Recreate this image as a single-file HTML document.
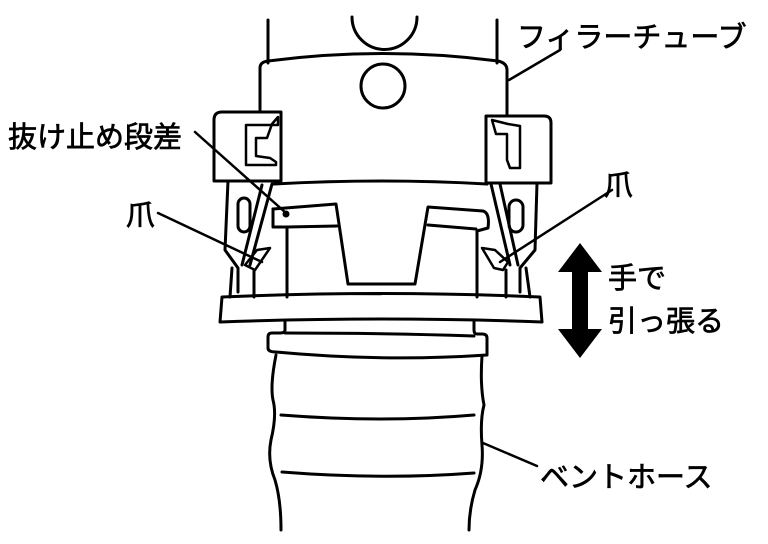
<!DOCTYPE html>
<html><head><meta charset="utf-8"><style>
html,body{margin:0;padding:0;background:#fff}
svg{display:block}
text{font-family:"Liberation Sans","Noto Sans CJK JP",sans-serif;fill:#000;stroke:#000;stroke-width:0.7}
</style></head><body>
<svg width="768" height="544" viewBox="0 0 768 544" xmlns="http://www.w3.org/2000/svg">
<g fill="none" stroke="#000" stroke-width="3" stroke-linejoin="round" stroke-linecap="round">
<line x1="268" y1="20" x2="268" y2="63"/>
<line x1="497" y1="20" x2="497" y2="63"/>
<path d="M352,17 A32,32 0 0 0 417,17"/>
<path d="M260,112 V68 Q260,62 268,61 Q383,46 498,61 Q507,63 507,70 V116"/>
<circle cx="383" cy="86" r="22"/>
<path d="M281,112 H222 Q214,112 214,120 V181 H281 Z"/>
<path d="M486,116 H544 Q551,116 551,123 V183 H486 Z"/>
<path d="M246,125 H278 V117 L272,124 L267,138 H256 V156 L270,158 L276,162 V165 H246 Z" stroke-width="2.5"/>
<path d="M492,120 L496,134 H507 V160 L510,168 H520 V126 L508,124 Z" stroke-width="2.5"/>
<path d="M274,184 Q383,178 487,184"/>
<path d="M228,181 L225,250 L238,268 V292"/>
<path d="M272,184 L250,265"/>
<path d="M262,185 L242,265"/>
<rect x="238" y="198" width="12" height="34" rx="6"/>
<path d="M245,265 L257,250 L270,248 L255,270 Z" stroke-width="2.5"/>
<path d="M232,268 L230,297 M254,270 L254,297"/>
<path d="M537,183 L535,250 L520,268 V292"/>
<path d="M491,184 L510,265 M500,184 L518,265"/>
<rect x="509" y="200" width="14" height="32" rx="7"/>
<path d="M482,248 L495,250 L508,262 L503,270 L494,268 Z" stroke-width="2.5"/>
<path d="M526,268 L530,297 M506,270 L506,297"/>
<path d="M273,209 L336,204 L348,284 L415,284 L428,207 L483,211 Q490,213 488,228 L477,231"/>
<path d="M273,209 V227 L287,227 L337,226"/>
<path d="M287,227 V297"/>
<path d="M477,231 V297"/>
<path d="M428,225 L476,229"/>
<path d="M222,297 Q383,290 540,297 L542,322 Q383,316 220,322 Z"/>
<path d="M285,322 V330 Q285,333 280,333 H272 Q268,333 268,337 V348 Q268,352 276,352 Q383,362 487,355 V338 Q487,334 482,334 H477 Q474,334 474,330 V322"/>
<path d="M285,333 Q383,333 474,336"/>
<path d="M276,355 Q270,385 273,400 Q277,415 271,440 Q267,460 275,480 Q281,500 281,530"/>
<path d="M482,356 Q480,385 484,405 Q480,420 482,445 Q484,470 475,490 Q469,510 469,530"/>
<path d="M281,415 Q383,423 474,415"/>
<path d="M282,472 Q383,480 474,473"/>
<g stroke-width="2.5">
<line x1="509" y1="80" x2="560" y2="50"/>
<line x1="195" y1="132" x2="286" y2="213"/>
<line x1="158" y1="213" x2="262" y2="262"/>
<line x1="612" y1="190" x2="500" y2="262"/>
<line x1="483" y1="443" x2="537" y2="466"/>
</g>
</g>
<circle cx="286" cy="214" r="3.5" fill="#000"/>
<path d="M580,243 L602,272 H588 V329 H602 L580,358 L558,329 H572 V272 H558 Z" fill="#000"/>
<g font-size="29">
<text x="517" y="47">フィラーチューブ</text>
<text x="8" y="147">抜け止め段差</text>
<text x="126" y="225">爪</text>
<text x="604" y="195">爪</text>
<text x="608" y="288">手で</text>
<text x="608" y="331">引っ張る</text>
<text x="540" y="487">ベントホース</text>
</g>
</svg>
</body></html>
